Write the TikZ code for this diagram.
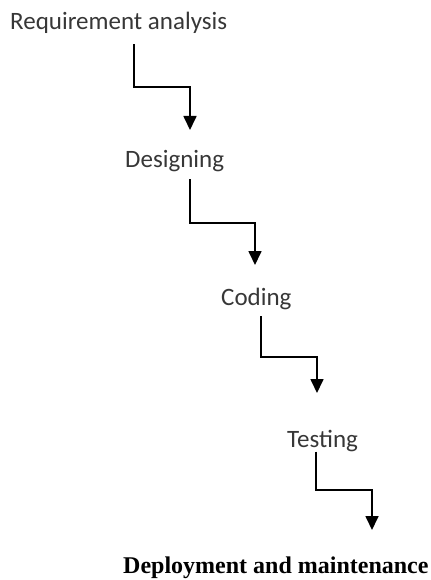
\documentclass[tikz,border=0pt]{standalone}
\usepackage{fontspec}
\setmainfont{Carlito}
\newfontfamily\timesfont{Liberation Serif}
\usetikzlibrary{arrows.meta}
\definecolor{ink}{RGB}{55,55,55}

\begin{document}
\begin{tikzpicture}[x=1bp,y=-1bp,>={Triangle[width=13bp,length=14bp]},
 stage/.style={anchor=base west,inner sep=0pt,text=ink,font=\fontsize{25bp}{30bp}\selectfont},
 flow/.style={->,line width=1.7bp}]
\useasboundingbox (0,0) rectangle (430,580);
\node[stage] (req) at (10,30) {Requirement analysis};
\node[stage] (des) at (125,168) {Designing};
\node[stage] (cod) at (221,305) {Coding};
\node[stage] (tes) at (287,447) {Testing};
\node[anchor=base west,inner sep=0pt,font={\timesfont\bfseries\fontsize{24bp}{28bp}\selectfont}] (dep) at (123,573) {Deployment and maintenance};
% bends and tips of the steps
\coordinate (b1) at (134,87);  \coordinate (e1) at (190,130);
\coordinate (b2) at (190,223); \coordinate (e2) at (255,265);
\coordinate (b3) at (261,357); \coordinate (e3) at (317,393);
\coordinate (b4) at (316,490); \coordinate (e4) at (372,530);
\draw[flow,shorten <=10bp] (req.south -| b1) -- (b1) -| (e1);
\draw[flow,shorten <=7bp] (des.south -| b2) -- (b2) -| (e2);
\draw[flow,shorten <=7bp] (cod.south -| b3) -- (b3) -| (e3);
\draw[flow] (tes.south -| b4) -- (b4) -| (e4);
\end{tikzpicture}
\end{document}
